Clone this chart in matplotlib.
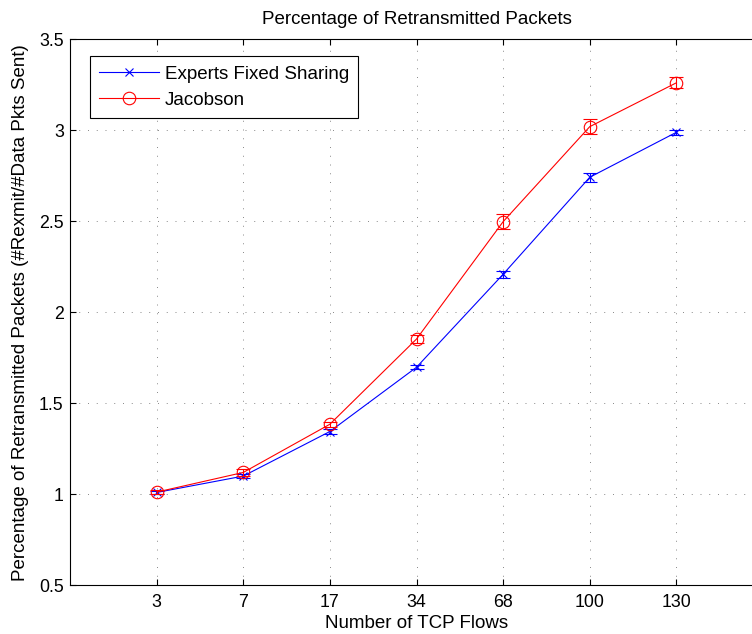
import numpy as np
import matplotlib
matplotlib.use('Agg')
import matplotlib.pyplot as plt

plt.rcParams['font.family'] = ['Liberation Sans', 'DejaVu Sans']

# valores
fluxos = ['3', '7', '17', '34', '68', '100', '130']
experts = [1.010, 1.100, 1.345, 1.698, 2.209, 2.742, 2.989]
experts_err = [0.010, 0.010, 0.012, 0.010, 0.020, 0.026, 0.015]
jacobson = [1.012, 1.120, 1.385, 1.853, 2.498, 3.020, 3.261]
jacobson_err = [0.012, 0.017, 0.015, 0.020, 0.040, 0.040, 0.030]
y_ticks = [0.5, 1, 1.5, 2, 2.5, 3, 3.5]

x = np.arange(1, len(fluxos) + 1)

fig = plt.figure(figsize=(7.52, 6.34), dpi=100)
ax = fig.add_axes([70/752, 48.7/634, 693/752, 546/634])

ax.errorbar(x, experts, yerr=experts_err, color='b', lw=0.8, capsize=5,
            capthick=0.8, elinewidth=0.8, fmt='none')
ax.plot(x, experts, color='b', lw=0.8, marker='x', ms=6, mew=0.8,
        label='Experts Fixed Sharing')
ax.errorbar(x, jacobson, yerr=jacobson_err, color='r', lw=0.8, capsize=5,
            capthick=0.8, elinewidth=0.8, fmt='none')
ax.plot(x, jacobson, color='r', lw=0.8, marker='o', ms=9, mew=0.8,
        mfc='none', label='Jacobson')

ax.set_xlim(0, 8)
ax.set_ylim(0.5, 3.5)
ax.set_xticks(x)
ax.set_xticklabels(fluxos)
ax.set_yticks(y_ticks)
ax.set_yticklabels(['0.5', '1', '1.5', '2', '2.5', '3', '3.5'])

ax.grid(True, color='#888888', lw=0.7, linestyle=(0, (1, 8)))
ax.tick_params(direction='in', length=4, width=0.8, top=True, right=True,
               labelsize=12.8, colors='black')
ax.tick_params(axis='y', pad=4.5)
ax.tick_params(axis='x', pad=6)
for s in ax.spines.values():
    s.set_linewidth(0.8)

ax.set_title('Percentage of Retransmitted Packets', fontsize=13.5, pad=11)
ax.set_xlabel('Number of TCP Flows', fontsize=13.5)
ax.set_ylabel('Percentage of Retransmitted Packets (#Rexmit/#Data Pkts Sent)', fontsize=13.5)
ax.xaxis.set_label_coords(0.5, (585.3 - 623) / 546)
ax.xaxis.label.set_va('center')
ax.yaxis.set_label_coords((20 - 69.7) / 693, 0.5)
ax.yaxis.label.set_va('center')
ax.yaxis.label.set_ha('center')

leg = ax.legend(loc='upper left', bbox_to_anchor=(19.6/693, 1 - 16.7/546),
                borderaxespad=0, fontsize=13.5, handlelength=3.2,
                handletextpad=0.3, labelspacing=0.5, borderpad=0.5,
                fancybox=False, framealpha=1, edgecolor='black')
leg.get_frame().set_linewidth(0.8)

fig.savefig('out.png', dpi=100)
